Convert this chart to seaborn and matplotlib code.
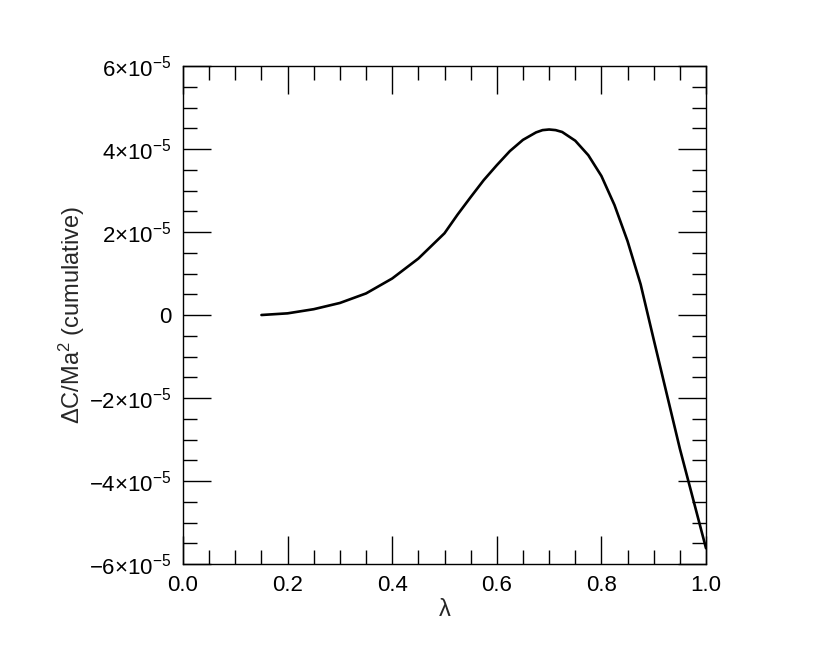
import matplotlib
matplotlib.use("Agg")
import matplotlib.pyplot as plt
import seaborn as sns
import pandas as pd
from matplotlib.ticker import MultipleLocator, FixedLocator, FixedFormatter

# values (y in units of 1e-5)
lam = [0.15, 0.20, 0.25, 0.30, 0.35, 0.40, 0.45, 0.50, 0.525, 0.55, 0.575, 0.60,
       0.625, 0.65, 0.675, 0.6875, 0.70, 0.7125, 0.725, 0.75, 0.775, 0.80, 0.825,
       0.85, 0.875, 0.90, 0.95, 1.00]
dc = [0.0, 0.04, 0.14, 0.29, 0.52, 0.88, 1.36, 1.97, 2.42, 2.84, 3.25, 3.61,
      3.95, 4.22, 4.40, 4.455, 4.47, 4.455, 4.41, 4.20, 3.85, 3.35, 2.65,
      1.78, 0.74, -0.59, -3.22, -5.62]

yticks = [-6e-5, -4e-5, -2e-5, 0, 2e-5, 4e-5, 6e-5]
ytick_labels = [r"$-6{\times}10^{-5}$", r"$-4{\times}10^{-5}$", r"$-2{\times}10^{-5}$", "0",
                r"$2{\times}10^{-5}$", r"$4{\times}10^{-5}$", r"$6{\times}10^{-5}$"]
xticks = [0.0, 0.2, 0.4, 0.6, 0.8, 1.0]
xtick_labels = ["0.0", "0.2", "0.4", "0.6", "0.8", "1.0"]

sns.set_style("ticks")
plt.rcParams["font.family"] = ["Liberation Sans", "DejaVu Sans"]
plt.rcParams["mathtext.fontset"] = "custom"
plt.rcParams["mathtext.rm"] = "Liberation Sans"
plt.rcParams["mathtext.it"] = "Liberation Sans:italic"

df = pd.DataFrame({"lam": lam, "dc": [v * 1e-5 for v in dc]})

fig = plt.figure(figsize=(8.3, 6.64), dpi=100)
ax = fig.add_axes([0.2205, 0.1506, 0.6301, 0.7500])
sns.lineplot(data=df, x="lam", y="dc", color="black", linewidth=1.9, ax=ax)

ax.set_xlim(0, 1)
ax.set_ylim(-6e-5, 6e-5)
ax.xaxis.set_major_locator(FixedLocator(xticks))
ax.xaxis.set_major_formatter(FixedFormatter(xtick_labels))
ax.xaxis.set_minor_locator(MultipleLocator(0.05))
ax.yaxis.set_major_locator(FixedLocator(yticks))
ax.yaxis.set_major_formatter(FixedFormatter(ytick_labels))
ax.yaxis.set_minor_locator(MultipleLocator(0.5e-5))

ax.tick_params(which="both", direction="in", top=True, right=True, width=1, colors="black")
ax.tick_params(which="major", length=20, labelsize=16, pad=8)
ax.tick_params(which="minor", length=10)
for s in ax.spines.values():
    s.set_visible(True)
    s.set_linewidth(1)
    s.set_color("black")

ax.set_xlabel("λ", fontsize=17, labelpad=2)
ax.set_ylabel(r"ΔC/Ma$^2$ (cumulative)", fontsize=17, labelpad=2)

fig.savefig("out.png", dpi=100)
